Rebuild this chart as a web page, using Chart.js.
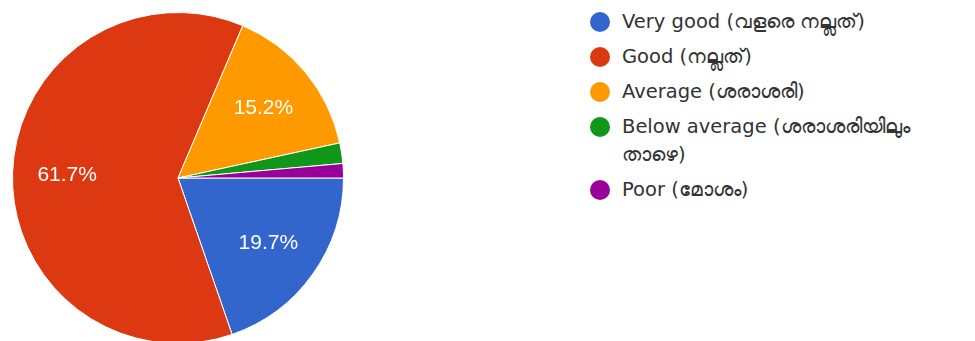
<!DOCTYPE html>
<html>
<head>
<meta charset="utf-8">
<script src="https://cdn.jsdelivr.net/npm/chart.js@4"></script>
<style>
  html, body { margin: 0; padding: 0; background: #fff; overflow: hidden; }
  body { width: 975px; height: 341px; position: relative; }
  #pieWrap { position: absolute; left: 0; top: 0; width: 356px; height: 356px; }
  #legend { position: absolute; left: 590px; top: 8px; width: 382px; list-style: none; margin: 0; padding: 0;
    font-family: "DejaVu Sans", sans-serif; font-size: 19.5px; color: #333; }
  #legend li { position: relative; padding-left: 32px; line-height: 28px; margin-bottom: 7px; }
  #legend .dot { position: absolute; left: 0; top: 4px; width: 20px; height: 20px; border-radius: 50%; }
</style>
</head>
<body>
<div id="pieWrap"><canvas id="ratingChart"></canvas></div>
<ul id="legend"></ul>
<script>
const categories = [
  "Very good (വളരെ നല്ലത്)",
  "Good (നല്ലത്)",
  "Average (ശരാശരി)",
  "Below average (ശരാശരിയിലും താഴെ)",
  "Poor (മോശം)",
];
const percentValues = [19.7, 61.7, 15.2, 2.0, 1.4];
const sliceColors = ["#3366cc", "#dc3912", "#ff9900", "#109618", "#990099"];

// white percentage labels inside the bigger slices
const sliceLabels = {
  id: "sliceLabels",
  afterDatasetsDraw(chart) {
    const { ctx } = chart;
    const meta = chart.getDatasetMeta(0);
    ctx.save();
    ctx.font = "21px 'Liberation Sans', Arial, sans-serif";
    ctx.fillStyle = "#fff";
    ctx.textAlign = "center";
    ctx.textBaseline = "middle";
    meta.data.forEach((arc, i) => {
      const value = percentValues[i];
      if (value < 5) return;
      const mid = (arc.startAngle + arc.endAngle) / 2;
      const r = arc.outerRadius * 0.67;
      ctx.fillText(value.toFixed(1) + "%", arc.x + Math.cos(mid) * r, arc.y + Math.sin(mid) * r + 1);
    });
    ctx.restore();
  },
};

new Chart(document.getElementById("ratingChart"), {
  type: "pie",
  data: {
    labels: categories,
    datasets: [
      {
        data: percentValues,
        backgroundColor: sliceColors,
        borderColor: "#fff",
        borderWidth: 1,
      },
    ],
  },
  options: {
    responsive: true,
    maintainAspectRatio: false,
    animation: false,
    rotation: 90,
    layout: { padding: 12 },
    plugins: {
      legend: { display: false },
      tooltip: { enabled: false },
    },
  },
  plugins: [sliceLabels],
});

const legend = document.getElementById("legend");
categories.forEach((label, i) => {
  const item = document.createElement("li");
  item.innerHTML = `<span class="dot" style="background:${sliceColors[i]}"></span>${label}`;
  legend.appendChild(item);
});
</script>
</body>
</html>
